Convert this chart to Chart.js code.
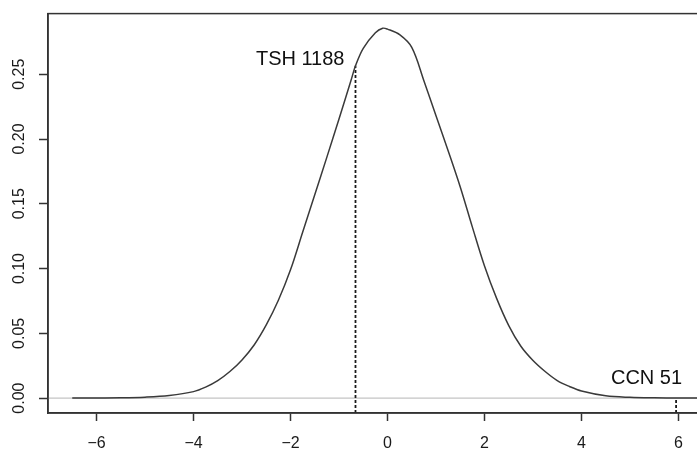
<!DOCTYPE html>
<html>
<head>
<meta charset="utf-8">
<script src="https://cdn.jsdelivr.net/npm/chart.js@4/dist/chart.umd.min.js"></script>
<style>
  html, body { margin: 0; padding: 0; background: #fff; overflow: hidden; }
  #wrap { width: 712px; height: 450px; }
</style>
</head>
<body>
<div id="wrap"><canvas id="grafico" width="712" height="450"></canvas></div>
<script>
/*************  dados  ****************/
// curva de densidade
const densX = [-6.5, -6.0, -5.5, -5.0, -4.5, -4.0, -3.75, -3.5, -3.25, -3.0, -2.75, -2.5, -2.25, -2.0,
  -1.75, -1.5, -1.25, -1.0, -0.75, -0.66, -0.5, -0.25, -0.1, 0.0, 0.25, 0.5, 0.75, 1.0, 1.25, 1.5,
  1.75, 2.0, 2.25, 2.5, 2.75, 3.0, 3.25, 3.5, 3.75, 4.0, 4.5, 5.0, 5.5, 6.0, 6.5]
const densY = [0.0, 0.0001, 0.0002, 0.0007, 0.002, 0.005, 0.0085, 0.0135, 0.0205, 0.0295, 0.041, 0.0565, 0.0755, 0.099,
  0.128, 0.157, 0.186, 0.2155, 0.2455, 0.2565, 0.270, 0.282, 0.2855, 0.2848, 0.2805, 0.2707, 0.245, 0.218, 0.191, 0.163,
  0.132, 0.102, 0.077, 0.056, 0.040, 0.029, 0.0205, 0.0135, 0.009, 0.0055, 0.0018, 0.0006, 0.0002, 0.0001, 0.0]

// eixos
const xTicks = [-6, -4, -2, 0, 2, 4, 6]
const yTicks = [0, 0.05, 0.10, 0.15, 0.20, 0.25]
const eixoX = [-7.0, 6.505]
const eixoY = [-0.0115, 0.2968]

// variedades marcadas
const marcaNomes = ['TSH 1188', 'CCN 51']
const marcaX = [-0.66, 5.95]
const marcaY = [0.2565, 0.0]

/*************  estilo  ****************/
const fonte = '"Liberation Sans", Arial, sans-serif'
// deslocamento do texto em pixels (dx, dy) relativo ao topo da marca
const deslocamentos = [[-11, -6], [6, -20]]

// moldura + rótulos das marcas
const moldura = {
  id: 'moldura',
  afterDatasetsDraw(chart) {
    const {ctx, chartArea: a, scales: {x, y}} = chart
    ctx.save()
    ctx.strokeStyle = '#333'
    ctx.lineWidth = 1.5
    ctx.strokeRect(a.left, a.top, a.right - a.left, a.bottom - a.top)

    ctx.font = '20px ' + fonte
    ctx.fillStyle = '#111'
    ctx.textAlign = 'right'
    ctx.textBaseline = 'middle'
    marcaNomes.forEach((nome, i) => {
      const px = x.getPixelForValue(marcaX[i]) + deslocamentos[i][0]
      const py = y.getPixelForValue(marcaY[i]) + deslocamentos[i][1]
      ctx.fillText(nome, px, py)
    })
    ctx.restore()
  }
}

const pontos = (xs, ys) => xs.map((v, i) => ({x: v, y: ys[i]}))

const datasets = [
  {
    label: 'densidade',
    data: pontos(densX, densY),
    borderColor: '#3a3a3a',
    borderWidth: 1.5,
    pointRadius: 0,
    tension: 0.35,
    order: 1
  },
  {
    label: 'zero',
    data: pontos(eixoX, [0, 0]),
    borderColor: '#c4c4c4',
    borderWidth: 1.2,
    pointRadius: 0,
    order: 3
  }
]

marcaNomes.forEach((nome, i) => {
  datasets.push({
    label: nome,
    data: pontos([marcaX[i], marcaX[i]], [eixoY[0], marcaY[i]]),
    borderColor: '#1a1a1a',
    borderWidth: 1.8,
    borderDash: [3, 2],
    pointRadius: 0,
    order: 2
  })
})

new Chart(document.getElementById('grafico'), {
  type: 'line',
  data: {datasets},
  plugins: [moldura],
  options: {
    responsive: false,
    animation: false,
    layout: {padding: {top: 11, right: 9, bottom: 0, left: 0}},
    plugins: {legend: {display: false}, tooltip: {enabled: false}},
    scales: {
      x: {
        type: 'linear',
        min: eixoX[0],
        max: eixoX[1],
        afterBuildTicks: s => { s.ticks = xTicks.map(v => ({value: v})) },
        afterFit: s => { s.height = 37 },
        grid: {drawOnChartArea: false, tickLength: 8, color: '#333', tickWidth: 1.5},
        border: {display: true, color: '#333', width: 1.5},
        ticks: {
          maxRotation: 0,
          padding: 13,
          color: '#1a1a1a',
          font: {family: fonte, size: 16},
          callback: v => String(v).replace('-', '\u2212')
        }
      },
      y: {
        type: 'linear',
        min: eixoY[0],
        max: eixoY[1],
        afterBuildTicks: s => { s.ticks = yTicks.map(v => ({value: v})) },
        afterFit: s => { s.width = 48 },
        grid: {drawOnChartArea: false, tickLength: 9, color: '#333', tickWidth: 1.5},
        border: {display: true, color: '#333', width: 1.5},
        ticks: {
          minRotation: 90,
          maxRotation: 90,
          crossAlign: 'center',
          padding: 4,
          color: '#1a1a1a',
          font: {family: fonte, size: 16},
          callback: v => v.toFixed(2)
        }
      }
    }
  }
})
</script>
</body>
</html>
